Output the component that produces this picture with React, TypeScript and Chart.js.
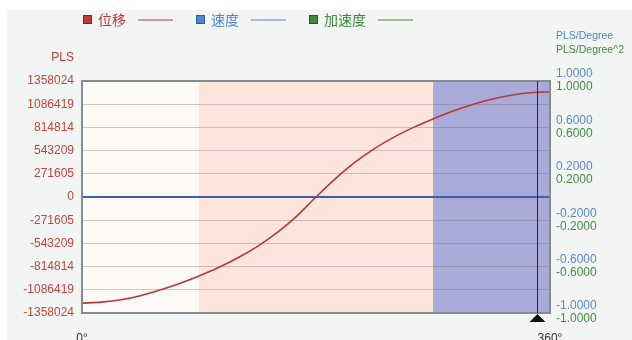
import { useEffect, useRef } from "react";
import { Chart, registerables } from "chart.js";

Chart.register(...registerables);

// ---- data ----
const angles = [0, 15, 30, 45, 60, 75, 90, 105, 120, 135, 150, 165, 180, 195, 210, 225, 240, 255, 270, 285, 300, 315, 330, 345, 360];
const displacement = [
  -1243000, -1231000, -1203000, -1155000, -1090000, -1014000, -925000, -826000, -712000,
  -578000, -418000, -226000, 0, 215000, 407000, 567000, 701000, 815000, 914000, 1003000,
  1079000, 1144000, 1192000, 1220000, 1232000,
];
const velocity = [0, 0, 0, 0, 0, 0, 0, 0, 0, 0, 0, 0, 0, 0, 0, 0, 0, 0, 0, 0, 0, 0, 0, 0, 0];
const acceleration = [0, 0, 0, 0, 0, 0, 0, 0, 0, 0, 0, 0, 0, 0, 0, 0, 0, 0, 0, 0, 0, 0, 0, 0, 0];

const plsTicks = [-1358024, -1086419, -814814, -543209, -271605, 0, 271605, 543209, 814814, 1086419, 1358024];
const degTicks = [-1, -0.6, -0.2, 0.2, 0.6, 1];
const xTicks = [0, 360];

const seriesNames = ["位移", "速度", "加速度"];
const seriesColors = ["#c0393a", "#4f84cc", "#3a8c3a"];
const seriesBorders = ["#8c2222", "#2f5f9f", "#226022"];

const bandFrom = [0, 90, 270];
const bandTo = [90, 270, 360];
const bandColors = ["#fdf9f4", "#fde4dc", "#aaaad8"];

const cursorDeg = 350;

const FONT = "'Liberation Sans', Arial, sans-serif";

export default function App() {
  const ref = useRef<HTMLCanvasElement | null>(null);

  useEffect(() => {
    const canvas = ref.current;
    if (!canvas) return;

    const decor = {
      id: "decor",
      afterLayout(chart: any) {
        const a = chart.scales.yAcc;
        const v = chart.scales.yVel;
        if (a && v) {
          a.left = v.left;
          a.right = v.right;
          a.width = v.right - v.left;
        }
      },
      beforeDraw(chart: any) {
        const { ctx, chartArea } = chart;
        const xs = chart.scales.x;
        ctx.save();
        for (let i = 0; i < bandFrom.length; i++) {
          const x0 = xs.getPixelForValue(bandFrom[i]);
          const x1 = xs.getPixelForValue(bandTo[i]);
          ctx.fillStyle = bandColors[i];
          ctx.fillRect(x0, chartArea.top, x1 - x0, chartArea.bottom - chartArea.top);
        }
        ctx.restore();
      },
      afterDatasetsDraw(chart: any) {
        const { ctx, chartArea } = chart;
        const xs = chart.scales.x;
        ctx.save();
        // border
        ctx.strokeStyle = "#858a90";
        ctx.lineWidth = 2;
        ctx.strokeRect(chartArea.left, chartArea.top, chartArea.right - chartArea.left, chartArea.bottom - chartArea.top);
        // cursor
        const cx = Math.round(xs.getPixelForValue(cursorDeg)) + 0.5;
        ctx.strokeStyle = "#2a2a30";
        ctx.lineWidth = 1;
        ctx.beginPath();
        ctx.moveTo(cx, chartArea.top);
        ctx.lineTo(cx, chartArea.bottom);
        ctx.stroke();
        ctx.fillStyle = "#111";
        ctx.beginPath();
        ctx.moveTo(cx, chartArea.bottom + 1);
        ctx.lineTo(cx - 8, chartArea.bottom + 9);
        ctx.lineTo(cx + 8, chartArea.bottom + 9);
        ctx.closePath();
        ctx.fill();
        ctx.restore();
      },
      afterDraw(chart: any) {
        const { ctx, chartArea } = chart;
        ctx.save();
        ctx.textBaseline = "middle";
        // axis units
        ctx.font = `12px ${FONT}`;
        ctx.textAlign = "right";
        ctx.fillStyle = "#c0393a";
        ctx.fillText("PLS", chartArea.left - 8, 48);
        ctx.font = `10.5px ${FONT}`;
        ctx.textAlign = "left";
        ctx.fillStyle = "#4f84cc";
        ctx.fillText("PLS/Degree", chartArea.right + 6, 26);
        ctx.fillStyle = "#3a8c3a";
        ctx.fillText("PLS/Degree^2", chartArea.right + 6, 40);
        // legend
        const starts = [76, 189, 302];
        ctx.font = `14px 'Noto Sans CJK SC', sans-serif`;
        for (let i = 0; i < seriesNames.length; i++) {
          const x = starts[i];
          const y = 9.5;
          ctx.fillStyle = seriesColors[i];
          ctx.fillRect(x, y - 4.5, 9, 9);
          ctx.strokeStyle = seriesBorders[i];
          ctx.lineWidth = 1;
          ctx.strokeRect(x + 0.5, y - 4, 8, 8);
          ctx.fillStyle = seriesColors[i];
          ctx.fillText(seriesNames[i], x + 15, y);
          const w = ctx.measureText(seriesNames[i]).width;
          ctx.strokeStyle = seriesColors[i];
          ctx.beginPath();
          ctx.moveTo(x + 15 + w + 12, y + 0.5);
          ctx.lineTo(x + 15 + w + 47, y + 0.5);
          ctx.stroke();
        }
        ctx.restore();
      },
    };

    const mk = (arr: number[]) => angles.map((a, i) => ({ x: a, y: arr[i] }));

    const chart = new Chart(canvas, {
      type: "line",
      data: {
        datasets: [
          {
            label: seriesNames[0],
            data: mk(displacement),
            yAxisID: "yPls",
            borderColor: "#b3393b",
            borderWidth: 1.6,
            pointRadius: 0,
            cubicInterpolationMode: "monotone",
          },
          {
            label: seriesNames[1],
            data: mk(velocity),
            yAxisID: "yVel",
            borderColor: "#3d5fa8",
            borderWidth: 2,
            pointRadius: 0,
          },
          {
            label: seriesNames[2],
            data: mk(acceleration),
            yAxisID: "yAcc",
            borderColor: "#3a8c3a",
            borderWidth: 2,
            pointRadius: 0,
          },
        ],
      },
      options: {
        responsive: false,
        animation: false,
        layout: { padding: { top: 71, left: 0, right: 0, bottom: 0 } },
        plugins: {
          legend: { display: false },
          tooltip: { enabled: false },
        },
        scales: {
          x: {
            type: "linear",
            min: 0,
            max: 360,
            afterBuildTicks: (s: any) => {
              s.ticks = xTicks.map((v) => ({ value: v }));
            },
            afterFit: (s: any) => {
              s.height = 27;
            },
            grid: { display: false, drawTicks: false },
            border: { display: false },
            ticks: {
              padding: 18,
              maxRotation: 0,
              autoSkip: false,
              color: "#333",
              font: { size: 12, family: FONT },
              callback: (v: any) => `${v}°`,
            },
          },
          yPls: {
            type: "linear",
            position: "left",
            min: -1358024,
            max: 1358024,
            afterBuildTicks: (s: any) => {
              s.ticks = plsTicks.map((v) => ({ value: v }));
            },
            afterFit: (s: any) => {
              s.width = 75;
            },
            grid: { color: "rgba(110,100,105,0.33)", lineWidth: 1, drawTicks: false },
            border: { display: false },
            ticks: {
              padding: 8,
              color: "#c0453c",
              font: { size: 12, family: FONT },
              callback: (v: any) => String(v),
            },
          },
          yVel: {
            type: "linear",
            position: "right",
            weight: 0,
            min: -1,
            max: 1,
            afterBuildTicks: (s: any) => {
              s.ticks = degTicks.map((v) => ({ value: v }));
            },
            afterFit: (s: any) => {
              s.width = 82;
            },
            grid: { display: false, drawTicks: false },
            border: { display: false },
            ticks: {
              padding: 6,
              labelOffset: -7,
              color: "#5b86c8",
              font: { size: 12, family: FONT },
              callback: (v: any) => Number(v).toFixed(4),
            },
          },
          yAcc: {
            type: "linear",
            position: "right",
            weight: 1,
            min: -1,
            max: 1,
            afterBuildTicks: (s: any) => {
              s.ticks = degTicks.map((v) => ({ value: v }));
            },
            afterFit: (s: any) => {
              s.width = 0;
            },
            grid: { display: false, drawTicks: false },
            border: { display: false },
            ticks: {
              padding: 6,
              labelOffset: 6,
              color: "#3f8f3f",
              font: { size: 12, family: FONT },
              callback: (v: any) => Number(v).toFixed(4),
            },
          },
        },
      },
      plugins: [decor],
    } as any);

    return () => chart.destroy();
  }, []);

  return (
    <div
      style={{
        position: "absolute",
        left: 7,
        top: 10,
        width: 625,
        height: 330,
        background: "#f3f5f5",
        overflow: "hidden",
      }}
    >
      <canvas ref={ref} width={625} height={330} style={{ display: "block" }} />
    </div>
  );
}
